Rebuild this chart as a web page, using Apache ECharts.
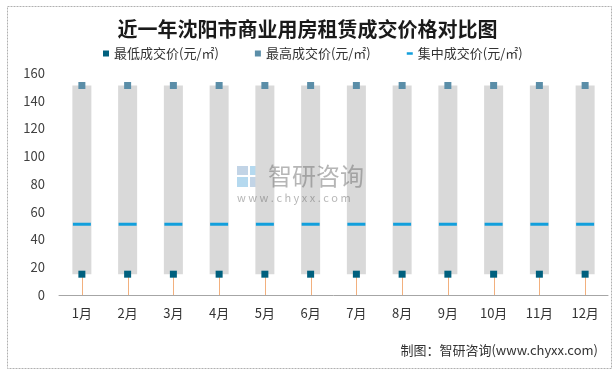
<!DOCTYPE html>
<html>
<head>
<meta charset="utf-8">
<script src="https://cdn.jsdelivr.net/npm/echarts@6/dist/echarts.min.js"></script>
<style>
html,body{margin:0;padding:0;background:#fff;}
#chart{width:615px;height:369px;}
</style>
</head>
<body>
<div id="chart"></div>
<script>
var months = ['1月','2月','3月','4月','5月','6月','7月','8月','9月','10月','11月','12月'];
var lowPrice = [15,15,15,15,15,15,15,15,15,15,15,15];
var highPrice = [151,151,151,151,151,151,151,151,151,151,151,151];
var midPrice = [51,51,51,51,51,51,51,51,51,51,51,51];
var yTicks = [0,20,40,60,80,100,120,140,160];

var FONT = '"Noto Sans CJK SC", "Noto Sans", sans-serif';
var rangeData = months.map(function(m, i){ return [i, lowPrice[i], highPrice[i]]; });

var chart = echarts.init(document.getElementById('chart'), null, {renderer:'canvas'});
chart.setOption({
  animation: false,
  backgroundColor: '#fff',
  textStyle: {fontFamily: FONT},
  title: {
    text: '近一年沈阳市商业用房租赁成交价格对比图',
    left: 'center',
    top: 14,
    textStyle: {fontSize: 20, fontWeight: 'bold', color: '#1a1a1a', fontFamily: FONT}
  },
  legend: {
    left: 103,
    top: 47,
    padding: 0,
    itemWidth: 6,
    itemHeight: 6,
    itemGap: 36,
    textStyle: {fontSize: 13, color: '#333', fontFamily: FONT},
    data: [
      {name: '最低成交价(元/㎡)', icon: 'rect'},
      {name: '最高成交价(元/㎡)', icon: 'rect'},
      {name: '集中成交价(元/㎡)', icon: 'path://M0,0h6v2.5h-6z'}
    ]
  },
  grid: {left: 59, right: 7, top: 73, bottom: 74, containLabel: false},
  xAxis: {
    type: 'category',
    data: months,
    axisLine: {lineStyle: {color: '#a6a6a6', width: 1}},
    axisTick: {show: false},
    axisLabel: {fontSize: 13, color: '#333', margin: 12, fontFamily: FONT}
  },
  yAxis: {
    type: 'value',
    min: 0, max: 160, interval: 20,
    axisLine: {show: false},
    axisTick: {show: false},
    splitLine: {show: false},
    axisLabel: {fontSize: 13, color: '#404040', margin: 14, fontFamily: FONT,
      formatter: function(v){ return yTicks.indexOf(v) >= 0 ? String(v) : ''; }}
  },
  graphic: [
    {type: 'rect', left: 5, top: 4, z: -10, silent: true,
      shape: {width: 604, height: 362},
      style: {fill: 'none', stroke: '#b0b0b0', lineWidth: 1, lineDash: [2,1]}},
    {type: 'group', left: 237, top: 166, z: 100, silent: true, children: [
      {type: 'rect', shape: {x: 0, y: 0, width: 11, height: 9}, style: {fill: 'rgba(120,160,200,0.45)'}},
      {type: 'rect', shape: {x: 13, y: 0, width: 11, height: 9}, style: {fill: 'rgba(90,170,220,0.45)'}},
      {type: 'rect', shape: {x: 0, y: 11, width: 11, height: 10}, style: {fill: 'rgba(90,170,220,0.45)'}},
      {type: 'rect', shape: {x: 13, y: 11, width: 11, height: 10}, style: {fill: 'rgba(120,160,200,0.45)'}}
    ]},
    {type: 'text', left: 268, top: 164, z: 100, silent: true,
      style: {text: '智研咨询', fontSize: 24, fontFamily: FONT, fill: 'rgba(110,110,110,0.5)', letterSpacing: 4}},
    {type: 'text', left: 237, top: 192, z: 100, silent: true,
      style: {text: 'w w w . c h y x x . c o m', fontSize: 11, fontFamily: FONT, fill: 'rgba(110,110,110,0.5)', letterSpacing: 1}},
    {type: 'text', right: 17, top: 344, silent: true,
      style: {text: '制图：智研咨询(www.chyxx.com)', fontSize: 13, fontFamily: FONT, fill: '#333'}}
  ],
  series: [
    {
      name: 'range',
      type: 'custom',
      z: 1,
      data: rangeData,
      encode: {x: 0, y: [1, 2]},
      renderItem: function(params, api){
        var x = api.value(0), lo = api.value(1), hi = api.value(2);
        var pLo = api.coord([x, lo]);
        var pHi = api.coord([x, hi]);
        var p0 = api.coord([x, 0]);
        var cx = Math.round(pLo[0]) + 0.5;
        return {type: 'group', children: [
          {type: 'rect', shape: {x: pLo[0] - 9.5, y: pHi[1], width: 19, height: pLo[1] - pHi[1]},
            style: {fill: '#d9d9d9'}},
          {type: 'line', shape: {x1: cx, y1: p0[1], x2: cx, y2: pLo[1]},
            style: {stroke: '#f2b07e', lineWidth: 1}}
        ]};
      }
    },
    {
      name: '最低成交价(元/㎡)',
      type: 'scatter',
      z: 3,
      symbol: 'rect',
      symbolSize: 7,
      itemStyle: {color: '#00607e', opacity: 1},
      data: lowPrice
    },
    {
      name: '最高成交价(元/㎡)',
      type: 'scatter',
      z: 3,
      symbol: 'rect',
      symbolSize: 7,
      itemStyle: {color: '#5b8ea8', opacity: 1},
      data: highPrice
    },
    {
      name: '集中成交价(元/㎡)',
      type: 'scatter',
      z: 3,
      symbol: 'rect',
      symbolSize: [18, 3],
      itemStyle: {color: '#129fdc', opacity: 1},
      data: midPrice
    }
  ]
});
</script>
</body>
</html>
